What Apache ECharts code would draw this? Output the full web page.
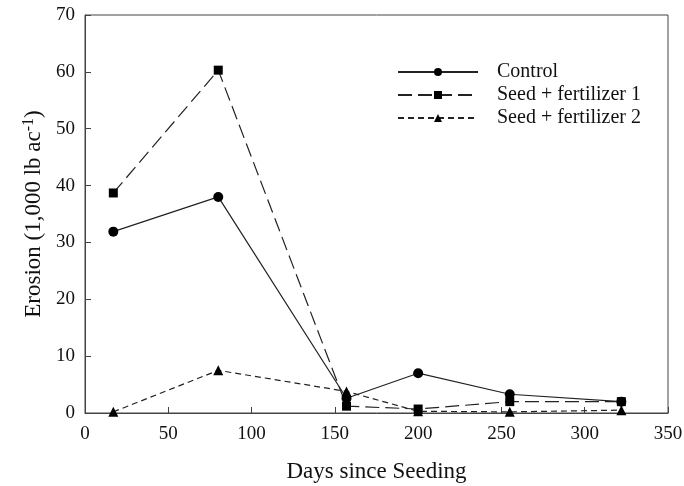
<!DOCTYPE html>
<html><head><meta charset="utf-8">
<script src="https://cdn.jsdelivr.net/npm/echarts@6/dist/echarts.min.js"></script>
<style>html,body{margin:0;padding:0;background:#fff}#c{width:684px;height:486px}</style>
</head><body><div id="c"></div>
<script>
const days = [17, 80, 157, 200, 255, 322];
const control = [31.9, 38.0, 2.6, 7.0, 3.3, 2.0];
const fert1 = [38.7, 60.3, 1.2, 0.7, 2.0, 2.0];
const fert2 = [0.2, 7.5, 3.8, 0.3, 0.2, 0.5];
const seriesNames = ['Control', 'Seed + fertilizer 1', 'Seed + fertilizer 2'];

const font = 'Liberation Serif';
const chart = echarts.init(document.getElementById('c'));
const pair = arr => days.map((d, i) => [d, arr[i]]);
chart.setOption({
  animation: false,
  backgroundColor: '#fff',
  grid: { left: 85, right: 16, top: 15, bottom: 73, show: true, borderColor: '#444', borderWidth: 1, containLabel: false, outerBoundsMode: 'none' },
  legend: {
    left: 392, top: 57, orient: 'vertical', itemGap: 3, itemWidth: 80, itemHeight: 10,
    textStyle: { fontFamily: font, fontSize: 20, color: '#111', padding: [0,0,0,14] },
    data: seriesNames
  },
  xAxis: {
    type: 'value', min: 0, max: 350, interval: 50,
    name: 'Days since Seeding', nameLocation: 'middle', nameGap: 47,
    nameTextStyle: { fontFamily: font, fontSize: 23, color: '#111' },
    axisLine: { lineStyle: { color: '#444' } },
    axisTick: { inside: true, length: 6, lineStyle: { color: '#444' } },
    axisLabel: { fontFamily: font, fontSize: 19, color: '#111', margin: 12 },
    splitLine: { show: false }
  },
  yAxis: {
    type: 'value', min: 0, max: 70, interval: 10,
    name: '{a|Erosion (1,000 lb ac}{s|-1}{a|)}', nameLocation: 'middle', nameGap: 36,
    nameTextStyle: { rich: { a: { fontFamily: font, fontSize: 23, color: '#111' }, s: { fontFamily: font, fontSize: 16, color: '#111', verticalAlign: 'top', padding: [0,0,10,0] } } },
    axisLine: { show: true, lineStyle: { color: '#444' } },
    axisTick: { inside: true, length: 6, lineStyle: { color: '#444' } },
    axisLabel: { fontFamily: font, fontSize: 19, color: '#111', margin: 10 },
    splitLine: { show: false }
  },
  series: [
    { name: seriesNames[0], type: 'line', data: pair(control), symbol: 'circle', symbolSize: 10,
      itemStyle: { color: '#000' }, lineStyle: { color: '#222', width: 1.2, type: 'solid' } },
    { name: seriesNames[1], type: 'line', data: pair(fert1), symbol: 'rect', symbolSize: 9,
      itemStyle: { color: '#000' }, lineStyle: { color: '#222', width: 1.2, type: [14, 6] } },
    { name: seriesNames[2], type: 'line', data: pair(fert2), symbol: 'triangle', symbolSize: 10,
      itemStyle: { color: '#000' }, lineStyle: { color: '#222', width: 1.2, type: [6, 4] } }
  ]
});
</script></body></html>
